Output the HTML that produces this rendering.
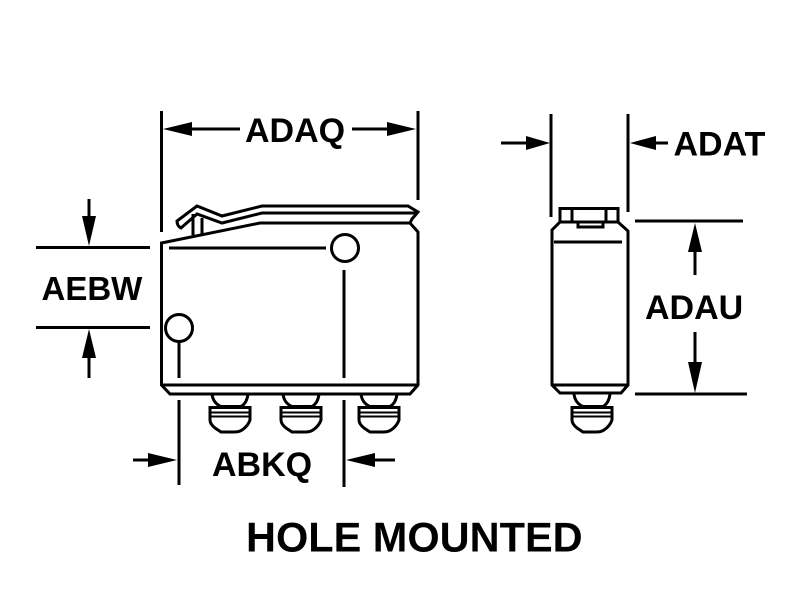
<!DOCTYPE html>
<html>
<head>
<meta charset="utf-8">
<style>
html,body{margin:0;padding:0;background:#fff;width:800px;height:612px;overflow:hidden}
svg{display:block}
text{font-family:"Liberation Sans",sans-serif;font-weight:bold;fill:#000}
</style>
</head>
<body>
<svg width="800" height="612" viewBox="0 0 800 612" xmlns="http://www.w3.org/2000/svg">
<defs>
<g id="btn" fill="none" stroke="#000" stroke-width="3">
<path d="M-18 394 Q-17 403 -9 406.500 H11 Q17 403 18 394"/>
<path d="M-20 407.500 H20 V420 Q18 426 12 430 Q9 432 4 432 H-9 L-15 428 Q-20 424 -20 420 Z" fill="#fff"/>
<path d="M-20 412.500 H20 M-20 416.500 H20" stroke-width="2"/>
</g>
</defs>
<g fill="none" stroke="#000" stroke-width="3">
<!-- dimension extension lines -->
<path d="M161.500 111V232M418 111V200M551 114V217M628 114V212"/>
<path d="M36 247.500H150M36 327.500H150M635 221H743M635 394H747"/>
<path d="M179 342V378M179 400V485M344 270V378M344 400V487"/>
<!-- dimension arrow shafts -->
<path d="M180 129H240M352 129H400M501 143H535M645 143H668"/>
<path d="M89 199V230M89 345V378M695 240V275M695 332V376M133 460H160M365 460H395"/>
<!-- body -->
<path d="M161.500 385V243L260 223H410L418 232V385L410 394H170Z"/>
<path d="M161.500 385H418"/>
<path d="M169 248H326"/>
<circle cx="345" cy="248" r="13.500"/>
<circle cx="179" cy="328" r="13.500"/>
<!-- lever -->
<path d="M193 235V214M202 235V218"/>
<path d="M410 223L412 219L418 212L408 206H262L222 216L197 206L177 221Q177 226 181 228L197 214L222 223L262 213H418"/>
<!-- side view -->
<path d="M552 385V230L560 222H618L628 231V385L621 393H560Z"/>
<path d="M552 385H628M554 242H622"/>
<path d="M560 221V208.500H618V221M572 208.500V221M606 208.500V221M578 222V227H603V222"/>
</g>
<use href="#btn" x="230"/>
<use href="#btn" x="301"/>
<use href="#btn" x="379"/>
<use href="#btn" x="592"/>
<!-- arrowheads -->
<g fill="#000">
<path d="M163 129L192 122V136Z"/>
<path d="M416 129L387 122V136Z"/>
<path d="M550 143L526 136V150Z"/>
<path d="M630 143L656 136V150Z"/>
<path d="M89 246L82 216H96Z"/>
<path d="M89 329L82 358H96Z"/>
<path d="M695 223L688 252H702Z"/>
<path d="M695 393L688 362H702Z"/>
<path d="M177 460L148 453V467Z"/>
<path d="M346 460L375 453V467Z"/>
</g>
<text x="245" y="142" font-size="34">ADAQ</text>
<text x="673.500" y="155.500" font-size="34">ADAT</text>
<text x="41.500" y="300" font-size="33">AEBW</text>
<text x="645" y="319" font-size="34">ADAU</text>
<text x="212" y="476" font-size="34">ABKQ</text>
<text x="246" y="551.500" font-size="41.500">HOLE MOUNTED</text>
</svg>
</body>
</html>
